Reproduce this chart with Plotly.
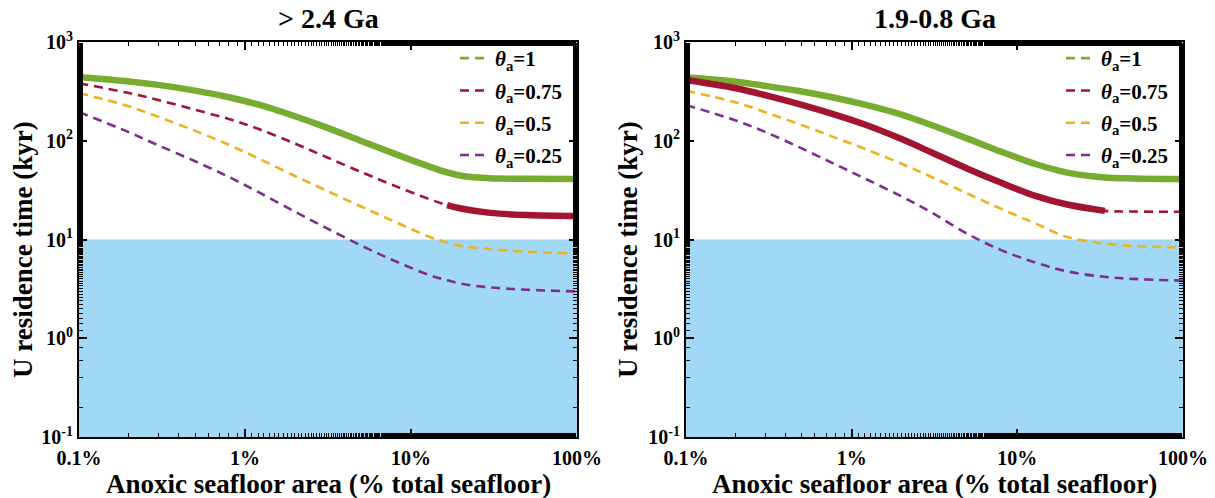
import plotly.graph_objects as go

# ---------------- data ----------------
labels = ["θa=1", "θa=0.75", "θa=0.5", "θa=0.25"]
legend_text = ["<i>θ</i><sub>a</sub>=1", "<i>θ</i><sub>a</sub>=0.75",
               "<i>θ</i><sub>a</sub>=0.5", "<i>θ</i><sub>a</sub>=0.25"]
colors = ["#77AC30", "#A2142F", "#EDB120", "#7E2F8E"]

# Panel 1: > 2.4 Ga   (x = anoxic seafloor area, %; y = residence time, kyr)
x_left = [0.1, 0.2, 0.3, 0.5, 0.8, 1.2, 2, 3, 5, 8, 13, 16.5, 20, 30, 50, 100]
green_left = [443, 399, 368, 322, 276, 233, 177, 139, 99.5, 73.6, 54.5, 47.8, 44.2, 41.6, 41.2, 41.0]
red_left = [382, 304, 259, 206, 166, 132, 93.5, 69.8, 48.3, 34.9, 25.5, 22.3, 20.6, 18.6, 17.7, 17.3]
yellow_left = [305, 223, 175, 126, 91, 66.4, 44, 32, 21.6, 15.1, 10.6, 9.3, 8.6, 8.0, 7.5, 7.2]
purple_left = [195, 122, 90, 62, 43, 30.3, 19.1, 13.4, 8.7, 6.05, 4.35, 3.87, 3.57, 3.27, 3.10, 2.98]
# highlighted (thick solid) x-ranges per series
highlight_left = [(0.1, 100), (16.5, 100), None, None]

# Panel 2: 1.9-0.8 Ga
x_right = [0.1, 0.2, 0.3, 0.5, 0.8, 1.2, 2, 3, 5, 8, 13, 20, 33.8, 50, 100]
green_right = [440, 396, 360, 315, 271, 232, 184, 145, 105, 77.4, 57.8, 47.6, 42.5, 41.5, 41.0]
red_right = [412, 340, 290, 231, 183, 146, 104, 76.9, 52.1, 37.5, 27.5, 22.6, 19.5, 19.2, 19.1]
yellow_right = [321, 244, 195, 144, 107, 82.8, 58.5, 43.4, 29.2, 20.4, 14.4, 10.6, 9.1, 8.6, 8.36]
purple_right = [230, 160, 123, 83.6, 57.4, 41.5, 27.3, 19.0, 11.4, 7.8, 5.8, 4.76, 4.18, 3.99, 3.83]
highlight_right = [(0.1, 100), (0.1, 33.8), None, None]

titles = ["> 2.4 Ga", "1.9-0.8 Ga"]
x_title = "Anoxic seafloor area (% total seafloor)"
y_title = "U residence time (kyr)"
y_tickvals = [0.1, 1, 10, 100, 1000]
y_ticktext = ["10<sup>-1</sup>", "10<sup>0</sup>", "10<sup>1</sup>", "10<sup>2</sup>", "10<sup>3</sup>"]
x_tickvals = [0.1, 1, 10, 100]
x_ticktext = ["0.1%", "1%", "10%", "100%"]
shade_range = (0.1, 10)

# ---------------- figure ----------------
W, H = 1215, 498
FONT = "Liberation Serif, Times New Roman, Times, serif"
fig = go.Figure()

panels = [
    dict(x=x_left, ys=[green_left, red_left, yellow_left, purple_left],
         hl=highlight_left, xa="x", ya="y", legend="legend"),
    dict(x=x_right, ys=[green_right, red_right, yellow_right, purple_right],
         hl=highlight_right, xa="x2", ya="y2", legend="legend2"),
]

for p in panels:
    for i, ys in enumerate(p["ys"]):
        fig.add_trace(go.Scatter(
            x=p["x"], y=ys, mode="lines", name=legend_text[i],
            line=dict(color=colors[i], width=2.6, dash="9px,6px", shape="spline", smoothing=1.0),
            xaxis=p["xa"], yaxis=p["ya"], legend=p["legend"], legendgroup=labels[i] + p["legend"],
            showlegend=True))
    for i, ys in enumerate(p["ys"]):
        rng = p["hl"][i]
        if rng is None:
            continue
        xs = [xv for xv in p["x"] if rng[0] <= xv <= rng[1]]
        yv = [y for xv, y in zip(p["x"], ys) if rng[0] <= xv <= rng[1]]
        fig.add_trace(go.Scatter(
            x=xs, y=yv, mode="lines", showlegend=False,
            line=dict(color=colors[i], width=6.5, shape="spline", smoothing=1.0),
            xaxis=p["xa"], yaxis=p["ya"], hoverinfo="skip"))

ydom = [1 - 437 / H, 1 - 42 / H]
xdoms = [[79 / W, 577 / W], [686 / W, 1183 / W]]

axis_common = dict(
    type="log", showgrid=False, zeroline=False, showline=True, linecolor="black",
    linewidth=2, mirror="allticks", ticks="inside", ticklen=8, tickwidth=1.6,
    tickcolor="black", automargin=False,
    tickfont=dict(family=FONT, size=20, color="black", weight="bold"),
    minor=dict(ticks="inside", ticklen=4, tickwidth=1.3, tickcolor="black", showgrid=False),
)

for k, (xa, ya) in enumerate([("xaxis", "yaxis"), ("xaxis2", "yaxis2")]):
    xanchor = "y" if k == 0 else "y2"
    yanchor = "x" if k == 0 else "x2"
    fig.layout[xa] = dict(axis_common, domain=xdoms[k], anchor=xanchor,
                          range=[-1, 2], tickvals=x_tickvals, ticktext=x_ticktext,
                          ticklabelstandoff=2)
    fig.layout[ya] = dict(axis_common, domain=ydom, anchor=yanchor,
                          range=[-1, 3], tickvals=y_tickvals, ticktext=y_ticktext)
    xref = "x domain" if k == 0 else "x2 domain"
    yref = "y" if k == 0 else "y2"
    fig.add_shape(type="rect", xref=xref, yref=yref, x0=0, x1=1,
                  y0=shade_range[0], y1=shade_range[1],
                  fillcolor="#A0D8F6", line=dict(width=0), layer="below")

    cx = (xdoms[k][0] + xdoms[k][1]) / 2
    fig.add_annotation(text="<b>%s</b>" % titles[k], xref="paper", yref="paper",
                       x=cx, y=1 - 18 / H, showarrow=False,
                       font=dict(family=FONT, size=28, color="black"),
                       xanchor="center", yanchor="middle")
    fig.add_annotation(text="<b>%s</b>" % x_title, xref="paper", yref="paper",
                       x=cx, y=1 - 484 / H, showarrow=False,
                       font=dict(family=FONT, size=27, color="black"),
                       xanchor="center", yanchor="middle")
    ytx = [23, 628][k]
    fig.add_annotation(text="<b>%s</b>" % y_title, xref="paper", yref="paper",
                       x=ytx / W, y=1 - 250 / H, showarrow=False, textangle=-90,
                       font=dict(family=FONT, size=27, color="black"),
                       xanchor="center", yanchor="middle")

legend_common = dict(
    bgcolor="rgba(0,0,0,0)", borderwidth=0, xanchor="left", yanchor="top",
    font=dict(family=FONT, size=21, color="black", weight="bold"),
    traceorder="grouped", tracegroupgap=2, itemwidth=30,
)
fig.update_layout(
    width=W, height=H, template="none",
    margin=dict(l=0, r=0, t=0, b=0),
    paper_bgcolor="white", plot_bgcolor="white",
    showlegend=True,
    legend=dict(legend_common, x=455 / W, y=1 - 38 / H),
    legend2=dict(legend_common, x=1061 / W, y=1 - 38 / H),
)

fig.write_html("out.html")
